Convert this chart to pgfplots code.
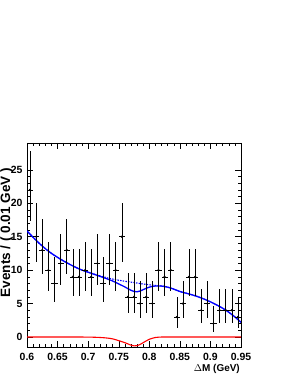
\documentclass[border=0pt]{standalone}
\usepackage{pgfplots}
\pgfplotsset{compat=1.18}
\usepackage{fontspec}
\setmainfont{Liberation Sans}
\usetikzlibrary{calc}

\pgfplotstableread{
x y ex eyp eym
0.605 22 0.005 5.75 4.70
0.615 15 0.005 4.96 3.83
0.625 13 0.005 4.70 3.559
0.635 10 0.005 4.27 3.109
0.645 8 0.005 3.95 2.768
0.655 11 0.005 4.42 3.266
0.665 13 0.005 4.70 3.559
0.675 9 0.005 4.11 2.943
0.685 9 0.005 4.11 2.943
0.695 10 0.005 4.27 3.109
0.705 9 0.005 4.11 2.943
0.715 11 0.005 4.42 3.266
0.725 8 0.005 3.95 2.768
0.735 11 0.005 4.42 3.266
0.745 10 0.005 4.27 3.109
0.755 15 0.005 4.96 3.83
0.765 6 0.005 3.584 2.380
0.775 6 0.005 3.584 2.380
0.785 5 0.005 3.382 2.160
0.795 6 0.005 3.584 2.380
0.805 5 0.005 3.382 2.160
0.815 10 0.005 4.27 3.109
0.825 9 0.005 4.11 2.943
0.835 10 0.005 4.27 3.109
0.845 3 0.005 2.918 1.633
0.855 5 0.005 3.382 2.160
0.865 9 0.005 4.11 2.943
0.875 9 0.005 4.11 2.943
0.885 4 0.005 3.163 1.914
0.895 5 0.005 3.382 2.160
0.905 2 0.005 2.638 1.292
0.915 4 0.005 3.163 1.914
0.925 4 0.005 3.163 1.914
0.935 4 0.005 3.163 1.914
0.945 3 0.005 2.918 1.633
}\datatable

\pgfplotstableread{
x y
0.600 15.85
0.610 14.90
0.620 14.00
0.630 13.20
0.640 12.50
0.650 11.90
0.660 11.35
0.670 10.85
0.680 10.40
0.690 10.00
0.700 9.70
0.710 9.40
0.720 9.12
0.730 8.87
0.740 8.65
0.750 8.48
0.760 8.33
0.770 8.20
0.775 8.13
0.780 8.06
0.785 7.99
0.790 7.92
0.800 7.80
0.810 7.70
0.820 7.62
0.830 7.45
0.840 7.15
0.850 6.80
0.860 6.55
0.870 6.30
0.880 6.00
0.890 5.65
0.900 5.25
0.910 4.80
0.920 4.30
0.930 3.70
0.940 3.00
0.950 2.20
}\bkgtable

\pgfplotstableread{
x y
0.600 15.85
0.610 14.90
0.620 14.00
0.630 13.20
0.640 12.50
0.650 11.90
0.660 11.35
0.670 10.85
0.680 10.40
0.690 9.99
0.700 9.68
0.710 9.36
0.720 9.04
0.730 8.72
0.740 8.37
0.750 7.93
0.760 7.48
0.770 6.98
0.775 6.80
0.780 6.76
0.785 6.87
0.790 7.07
0.800 7.45
0.810 7.62
0.820 7.61
0.830 7.45
0.840 7.15
0.850 6.80
0.860 6.55
0.870 6.30
0.880 6.00
0.890 5.65
0.900 5.25
0.910 4.80
0.920 4.30
0.930 3.70
0.940 3.00
0.950 2.20
}\tottable

\pgfplotstableread{
x y
0.600 0
0.650 0
0.680 0
0.690 -0.01
0.700 -0.02
0.710 -0.04
0.720 -0.08
0.730 -0.15
0.740 -0.28
0.750 -0.55
0.760 -0.85
0.770 -1.22
0.775 -1.33
0.780 -1.30
0.785 -1.12
0.790 -0.85
0.800 -0.35
0.810 -0.08
0.820 -0.01
0.830 0
0.880 0
0.950 0
}\sigtable

\begin{document}
\begin{tikzpicture}
\begin{axis}[
  name=ax,
  width=214bp, height=204bp, scale only axis,
  xmin=0.6, xmax=0.95, ymin=-1.5, ymax=29,
  xtick={0.6,0.65,0.7,0.75,0.8,0.85,0.9,0.95},
  xticklabels={0.6,0.65,0.7,0.75,0.8,0.85,0.9,0.95},
  ytick={0,5,10,15,20,25},
  minor x tick num=4, minor y tick num=4,
  tick align=inside, tick pos=both,
  major tick length=6bp, minor tick length=3bp,
  every tick/.style={black, line width=0.4pt},
  axis line style={black, line width=0.6pt},
  /pgf/number format/assume math mode=true,
  tick label style={font=\bfseries\fontsize{10.5}{12}\selectfont},
  xticklabel style={yshift=-4.5bp, inner sep=1.5pt},
  yticklabel style={xshift=-1bp},
  xlabel={$\Delta$M (GeV)},
  xlabel style={font=\bfseries\fontsize{10}{12}\selectfont, at={(rel axis cs:1,0)}, anchor=base east, yshift=-24.9bp, inner sep=1pt},
  ylabel={Events / ( 0.01 GeV )},
  ylabel style={font=\bfseries\fontsize{13.6}{15}\selectfont, at={(rel axis cs:-0.0794,0.561)}, anchor=base},
  clip=true,
]
\addplot[red, line width=1.1pt, smooth] table[x=x,y=y] {\sigtable};
\addplot[blue, line width=1.1pt, dash pattern=on 1.5pt off 1.2pt, smooth] table[x=x,y=y] {\bkgtable};
\addplot[blue, line width=1.3pt, smooth] table[x=x,y=y] {\tottable};
\addplot[black, only marks, mark=*, mark size=0.8pt, line width=0.5pt,
  error bars/.cd, x dir=both, x explicit, y dir=both, y explicit,
  error mark=none, error bar style={line width=0.5pt, black}]
  table[x=x, y=y, x error=ex, y error plus=eyp, y error minus=eym] {\datatable};
\coordinate (bl) at (rel axis cs:0,0);
\end{axis}
\pgfresetboundingbox
\path[use as bounding box] ($(bl)+(-27bp,-27bp)$) rectangle ($(bl)+(262bp,347bp)$);
\end{tikzpicture}
\end{document}
